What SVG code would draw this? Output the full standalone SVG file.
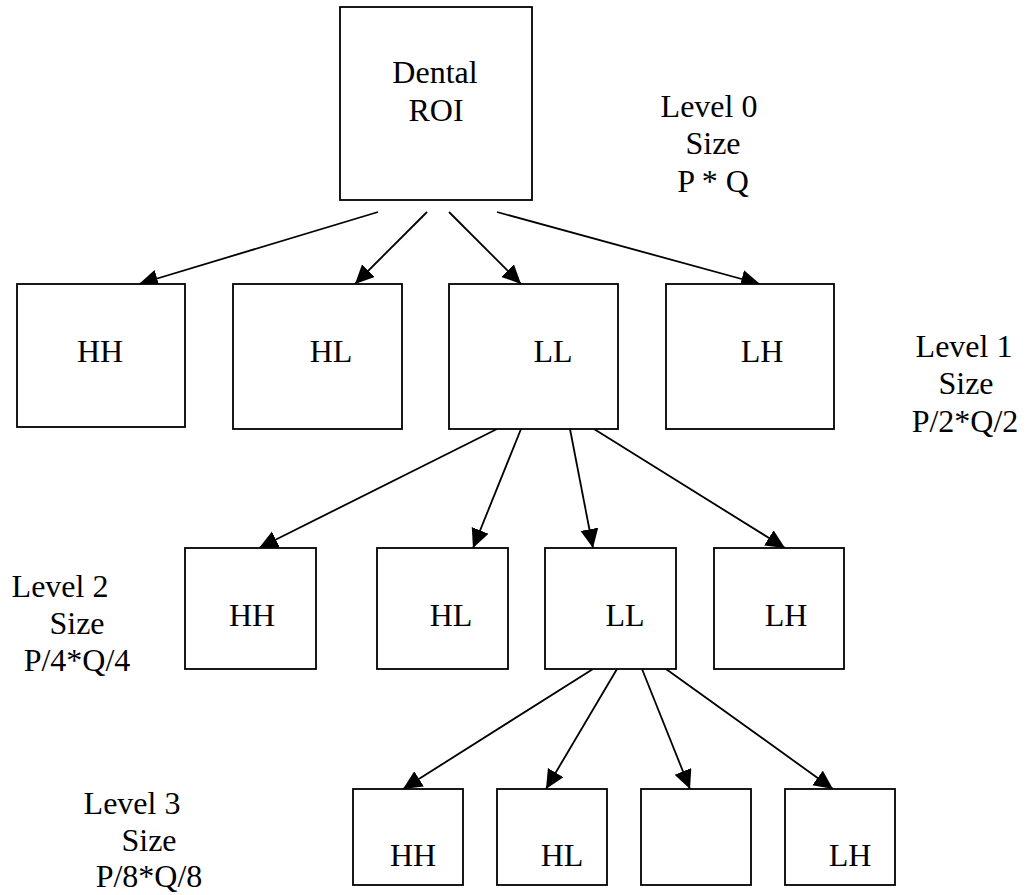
<svg xmlns="http://www.w3.org/2000/svg" width="1027" height="895" viewBox="0 0 1027 895">
<style>
  .box { fill: #ffffff; stroke: #000000; stroke-width: 1.8; }
  .t { font-family: "Liberation Serif", "Times New Roman", serif; font-size: 32px; fill: #000000; text-anchor: middle; }
  .edge { stroke: #000000; stroke-width: 1.8; fill: none; marker-end: url(#ah); }
</style>
<defs>
  <marker id="ah" markerUnits="userSpaceOnUse" markerWidth="21" markerHeight="19" refX="19" refY="9" orient="auto">
    <path d="M0,0 L19,9 L0,18 z" fill="#000000"/>
  </marker>
</defs>
<rect width="1027" height="895" fill="#ffffff"/>

<g id="connectors">
  <line class="edge" x1="378" y1="212" x2="139" y2="284"/>
  <line class="edge" x1="427" y1="212" x2="355" y2="284"/>
  <line class="edge" x1="449" y1="212" x2="521" y2="284"/>
  <line class="edge" x1="497" y1="212" x2="760" y2="284"/>

  <line class="edge" x1="497" y1="429" x2="259" y2="548"/>
  <line class="edge" x1="521" y1="429" x2="473" y2="548"/>
  <line class="edge" x1="570" y1="429" x2="593" y2="548"/>
  <line class="edge" x1="594" y1="429" x2="785" y2="548"/>

  <line class="edge" x1="593" y1="669" x2="403" y2="789"/>
  <line class="edge" x1="617" y1="669" x2="546" y2="789"/>
  <line class="edge" x1="642" y1="669" x2="690" y2="789"/>
  <line class="edge" x1="666" y1="669" x2="833" y2="789"/>
</g>

<g id="root">
  <rect class="box" x="340" y="7" width="192" height="193"/>
  <text class="t" x="435" y="83">Dental</text>
  <text class="t" x="436" y="121">ROI</text>
</g>

<g id="label-level0">
  <text class="t" x="709" y="117">Level 0</text>
  <text class="t" x="713" y="154">Size</text>
  <text class="t" x="713" y="192">P * Q</text>
</g>

<g id="l1-hh">
  <rect class="box" x="17" y="284" width="168" height="143"/>
  <text class="t" x="100" y="362">HH</text>
</g>
<g id="l1-hl">
  <rect class="box" x="233" y="284" width="169" height="145"/>
  <text class="t" x="331" y="362">HL</text>
</g>
<g id="l1-ll">
  <rect class="box" x="449" y="284" width="169" height="145"/>
  <text class="t" x="553" y="362">LL</text>
</g>
<g id="l1-lh">
  <rect class="box" x="666" y="284" width="168" height="145"/>
  <text class="t" x="762" y="362">LH</text>
</g>

<g id="label-level1">
  <text class="t" x="964" y="357">Level 1</text>
  <text class="t" x="966" y="394">Size</text>
  <text class="t" x="965" y="432">P/2*Q/2</text>
</g>

<g id="l2-hh">
  <rect class="box" x="185" y="548" width="131" height="121"/>
  <text class="t" x="252" y="626">HH</text>
</g>
<g id="l2-hl">
  <rect class="box" x="377" y="548" width="131" height="121"/>
  <text class="t" x="451" y="626">HL</text>
</g>
<g id="l2-ll">
  <rect class="box" x="545" y="548" width="131" height="121"/>
  <text class="t" x="625" y="626">LL</text>
</g>
<g id="l2-lh">
  <rect class="box" x="714" y="548" width="130" height="121"/>
  <text class="t" x="786" y="626">LH</text>
</g>

<g id="label-level2">
  <text class="t" x="60" y="597">Level 2</text>
  <text class="t" x="77" y="634">Size</text>
  <text class="t" x="77" y="671">P/4*Q/4</text>
</g>

<g id="l3-hh">
  <rect class="box" x="353" y="789" width="110" height="96"/>
  <text class="t" x="413" y="866">HH</text>
</g>
<g id="l3-hl">
  <rect class="box" x="497" y="789" width="110" height="96"/>
  <text class="t" x="562" y="866">HL</text>
</g>
<g id="l3-ll">
  <rect class="box" x="641" y="789" width="110" height="96"/>
</g>
<g id="l3-lh">
  <rect class="box" x="785" y="789" width="110" height="96"/>
  <text class="t" x="850" y="866">LH</text>
</g>

<g id="label-level3">
  <text class="t" x="132" y="814">Level 3</text>
  <text class="t" x="149" y="851">Size</text>
  <text class="t" x="149" y="887">P/8*Q/8</text>
</g>
</svg>
